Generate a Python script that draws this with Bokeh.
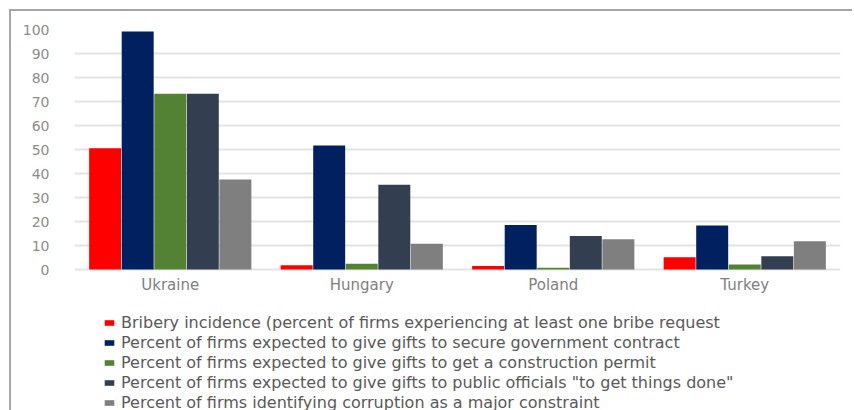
from bokeh.plotting import figure
from bokeh.models import ColumnDataSource, FactorRange, Legend, LegendItem, Range1d, FixedTicker
from bokeh.transform import dodge
from bokeh.core.properties import value
from bokeh.embed import file_html
from bokeh.resources import INLINE

countries = ["Ukraine", "Hungary", "Poland", "Turkey"]
bribery = [50.5, 1.8, 1.5, 5.1]
gov_contract = [99.2, 51.7, 18.5, 18.3]
construction = [73.2, 2.4, 0.7, 2.1]
things_done = [73.2, 35.3, 14.0, 5.5]
constraint = [37.5, 10.7, 12.6, 11.8]

series_labels = [
    "Bribery incidence (percent of firms experiencing at least one bribe request",
    "Percent of firms expected to give gifts to secure government contract",
    "Percent of firms expected to give gifts to get a construction permit",
    "Percent of firms expected to give gifts to public officials \"to get things done\"",
    "Percent of firms identifying corruption as a major constraint",
]
y_ticks = [0, 10, 20, 30, 40, 50, 60, 70, 80, 90, 100]

colors = ["#FF0000", "#002060", "#548235", "#333F50", "#7F7F7F"]
keys = ["bribery", "gov", "cons", "done", "corr"]

source = ColumnDataSource(dict(
    country=countries, bribery=bribery, gov=gov_contract, cons=construction,
    done=things_done, corr=constraint,
    label_y=[-6.3] * len(countries),
))

# frame spans from the 100 gridline down to the bottom of the window (2.4 px per unit)
p = figure(
    x_range=FactorRange(*countries, range_padding=0),
    y_range=Range1d(-58.75, 100),
    frame_width=766, frame_height=381,
    min_border_left=63, min_border_right=12, min_border_top=18, min_border_bottom=0,
    output_backend="svg", toolbar_location=None,
)
p.margin = (9, 0, 0, 9)
p.styles = {"border-top": "2px solid #A6A6A6", "border-left": "2px solid #A6A6A6"}
p.outline_line_color = None
p.background_fill_color = "white"

bw = 0.17
offsets = [-2 * bw, -bw, 0, bw, 2 * bw]
renderers = []
for k, c, off in zip(keys, colors, offsets):
    r = p.vbar(x=dodge("country", off, range=p.x_range), top=k, width=bw - 0.003,
               source=source, fill_color=c, line_color=None)
    renderers.append(r)

# category labels under the baseline
p.text(x="country", y="label_y", text="country", source=source,
       text_align="center", text_baseline="middle",
       text_font=value("DejaVu Sans"), text_font_size="15px", text_color="#7F7F7F")

p.xaxis.visible = False
p.xgrid.grid_line_color = None
p.ygrid.ticker = FixedTicker(ticks=y_ticks)
p.ygrid.grid_line_color = "#E3E3E3"
p.ygrid.grid_line_width = 2
p.yaxis.ticker = FixedTicker(ticks=y_ticks)
p.yaxis.axis_line_color = None
p.yaxis.major_tick_line_color = None
p.yaxis.minor_tick_line_color = None
p.yaxis.major_label_text_font = "DejaVu Sans"
p.yaxis.major_label_text_font_size = "14px"
p.yaxis.major_label_text_color = "#8C8C8C"
p.yaxis.major_label_standoff = 19

legend = Legend(
    items=[LegendItem(label=l, renderers=[r]) for l, r in zip(series_labels, renderers)],
    location=(29, -2),
    orientation="vertical",
    padding=0, margin=0, spacing=0,
    label_height=20, glyph_height=7, glyph_width=12, label_standoff=6,
    label_text_font="DejaVu Sans", label_text_font_size="16px",
    label_text_color="#595959",
    border_line_color=None, background_fill_alpha=0,
)
p.add_layout(legend, "center")

open("out.html", "w").write(file_html(p, INLINE))
